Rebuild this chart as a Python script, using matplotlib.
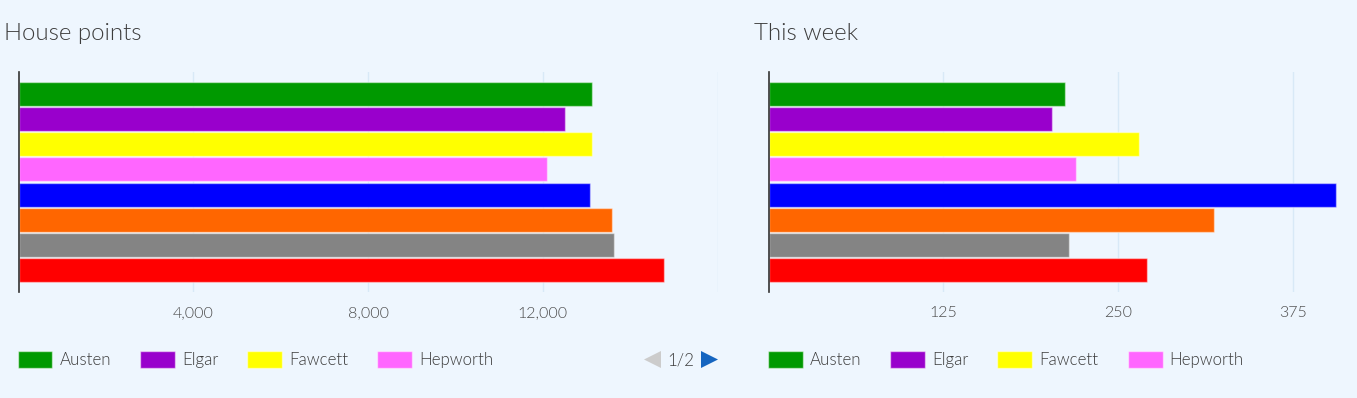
import matplotlib.pyplot as plt
import matplotlib.font_manager as fm
from matplotlib.patches import Rectangle, Polygon

W, H = 1357, 398

houses = ["Austen", "Elgar", "Fawcett", "Hepworth", "House 5", "House 6", "House 7", "House 8"]
colours = ["#009900", "#9900cc", "#ffff00", "#ff66ff", "#0000ff", "#ff6600", "#848484", "#ff0000"]
total_points = [13120, 12520, 13120, 12090, 13090, 13580, 13640, 14780]
week_points = [212, 203, 265, 220, 406, 319, 215, 271]
total_ticks = [4000, 8000, 12000, 16000]
week_ticks = [125, 250, 375, 500]
legend_page = "1/2"

bg = "#eef6fe"
txt = "#3c3c3c"

plt.rcParams["font.family"] = ["Lato", "DejaVu Sans"]

# pick Lato Light by file so nothing thinner gets matched
light_file = [f.fname for f in fm.fontManager.ttflist
              if f.fname.endswith("Lato-Light.ttf")]
if light_file:
    def lf(size):
        return fm.FontProperties(fname=light_file[0], size=size)
else:
    def lf(size):
        return fm.FontProperties(family="Lato", weight="light", size=size)

fig = plt.figure(figsize=(W / 100, H / 100), dpi=100, facecolor=bg)


def px(x, y):
    # pixel coords from top-left -> figure fraction
    return x / W, 1 - y / H


def bar_panel(left, values, ticks, title):
    ax = fig.add_axes([left / W, (H - 292) / H, 699 / W, 220 / H])
    ax.set_facecolor(bg)
    y = list(range(len(values)))
    ax.barh(y, values, height=0.96, color=colours,
            edgecolor=(1, 1, 1, 0.45), linewidth=1, zorder=3)
    ax.set_xlim(0, ticks[-1])
    ax.set_ylim(len(values) - 0.5 + 0.36, -0.5 - 0.36)
    ax.set_yticks([])
    ax.set_xticks(ticks)
    ax.set_xticklabels([f"{t:,}" for t in ticks[:-1]] + [""],
                       color="#4a4a4a", fontproperties=lf(11.5))
    ax.tick_params(axis="x", length=0, pad=10)
    ax.grid(axis="x", color="#d8e9f7", linewidth=1, zorder=0)
    for s in ["top", "right", "bottom"]:
        ax.spines[s].set_visible(False)
    ax.spines["left"].set_color("#333333")
    ax.spines["left"].set_linewidth(1.2)
    ax.spines["left"].set_zorder(4)
    fig.text(*px(left - 14.5, 33), title, color=txt, fontproperties=lf(17.3),
             va="center", ha="left")

    # legend, first page only
    renderer = fig.canvas.get_renderer()
    x = left - 1
    for name, c in list(zip(houses, colours))[:4]:
        fig.patches.append(Rectangle(px(x, 368.3), 35 / W, 17.6 / H,
                                     transform=fig.transFigure, facecolor=c,
                                     edgecolor=(1, 1, 1, 0.5), linewidth=1))
        t = fig.text(*px(x + 42, 360), name, color=txt, fontproperties=lf(12.2),
                     va="center", ha="left")
        bb = t.get_window_extent(renderer)
        x = bb.x1 + 29
    return ax


bar_panel(18.5, total_points, total_ticks, "House points")
bar_panel(768.5, week_points, week_ticks, "This week")

# legend pager of the first chart
fig.patches.append(Polygon([px(644, 359.5), px(661, 351), px(661, 368)], closed=True,
                           transform=fig.transFigure, facecolor="#cccccc", edgecolor="none"))
fig.patches.append(Polygon([px(701, 351), px(718, 359.5), px(701, 368)], closed=True,
                           transform=fig.transFigure, facecolor="#1565c0", edgecolor="none"))
fig.text(*px(681, 360), legend_page, color=txt, fontproperties=lf(12.2),
         va="center", ha="center")

fig.savefig("out.png", dpi=100, facecolor=bg)
